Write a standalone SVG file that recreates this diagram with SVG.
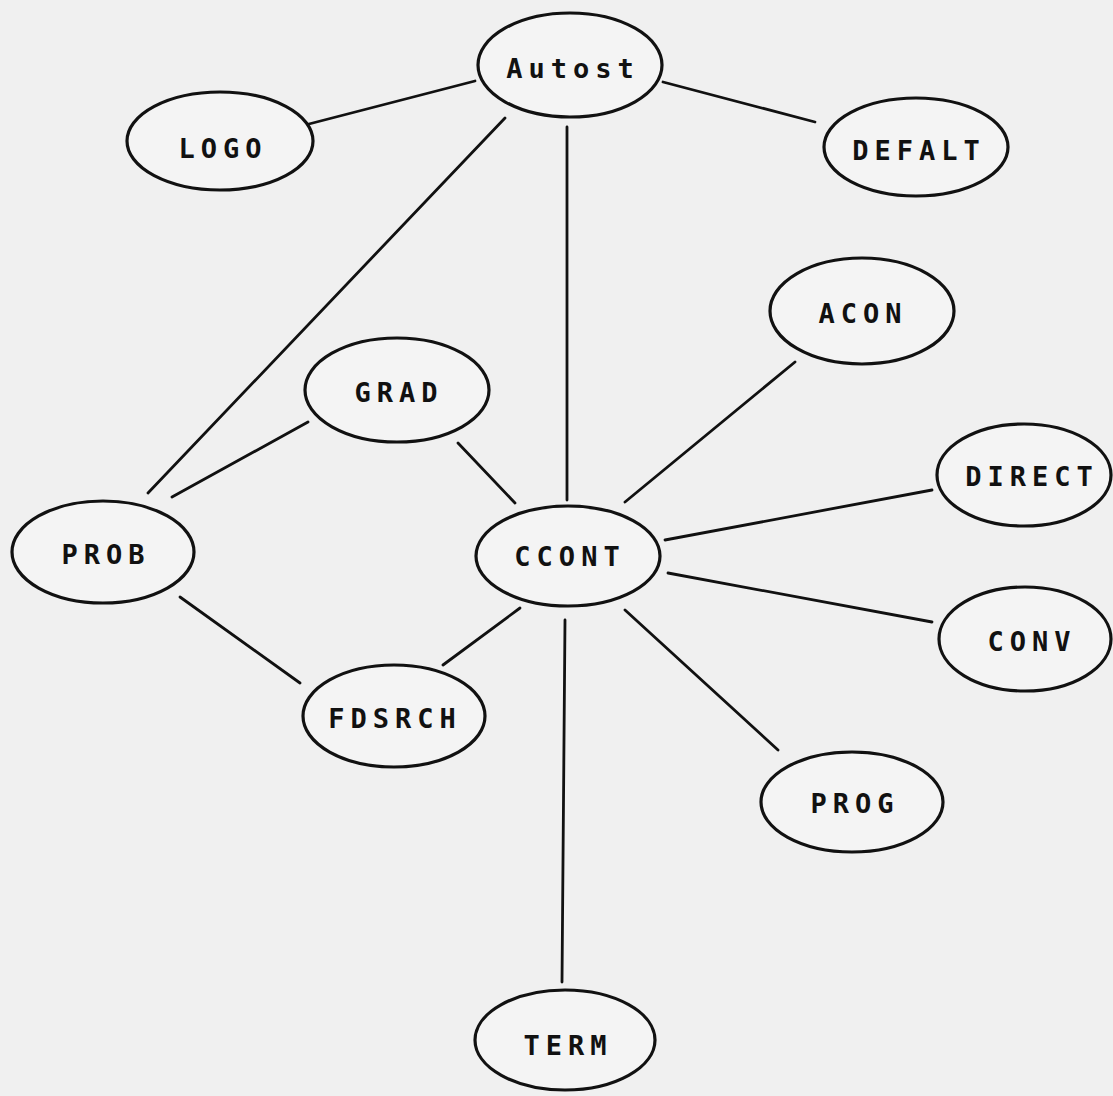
<svg xmlns="http://www.w3.org/2000/svg" width="1113" height="1096" viewBox="0 0 1113 1096">
<style>
.n ellipse{fill:#f4f4f4;stroke:#111;stroke-width:3.2}
.n text{font-family:"DejaVu Sans Mono","Liberation Mono",monospace;font-weight:bold;font-size:27px;fill:#111;text-anchor:middle;dominant-baseline:central;letter-spacing:6px}
.e line{stroke:#111;stroke-width:2.8;stroke-linecap:round}
</style>
<rect width="1113" height="1096" fill="#f0f0f0"/>
<g class="e" id="connectors">
<line x1="305" y1="125" x2="475" y2="81"/>
<line x1="663" y1="82" x2="815" y2="122"/>
<line x1="505" y1="118" x2="148" y2="493"/>
<line x1="567" y1="127" x2="567" y2="500"/>
<line x1="308" y1="422" x2="172" y2="497"/>
<line x1="458" y1="443" x2="515" y2="503"/>
<line x1="795" y1="362" x2="625" y2="502"/>
<line x1="932" y1="490" x2="665" y2="540"/>
<line x1="932" y1="622" x2="668" y2="573"/>
<line x1="778" y1="750" x2="625" y2="610"/>
<line x1="180" y1="597" x2="300" y2="683"/>
<line x1="443" y1="665" x2="520" y2="608"/>
<line x1="565" y1="620" x2="562" y2="982"/>
</g>
<g class="n" id="autost"><ellipse cx="570" cy="65" rx="92" ry="52"/><text x="573" y="68">Autost</text></g>
<g class="n" id="logo"><ellipse cx="220" cy="141" rx="93" ry="49"/><text x="223" y="148">LOGO</text></g>
<g class="n" id="defalt"><ellipse cx="916" cy="147" rx="92" ry="49"/><text x="919" y="150">DEFALT</text></g>
<g class="n" id="acon"><ellipse cx="862" cy="311" rx="92" ry="53"/><text x="863" y="313">ACON</text></g>
<g class="n" id="grad"><ellipse cx="397" cy="390" rx="92" ry="52"/><text x="399" y="392">GRAD</text></g>
<g class="n" id="direct"><ellipse cx="1024" cy="475" rx="87" ry="51"/><text x="1032" y="476">DIRECT</text></g>
<g class="n" id="prob"><ellipse cx="103" cy="552" rx="91" ry="51"/><text x="106" y="554">PROB</text></g>
<g class="n" id="ccont"><ellipse cx="568" cy="556" rx="92" ry="50"/><text x="570" y="556">CCONT</text></g>
<g class="n" id="conv"><ellipse cx="1025" cy="639" rx="86" ry="52"/><text x="1032" y="641">CONV</text></g>
<g class="n" id="fdsrch"><ellipse cx="394" cy="716" rx="91" ry="51"/><text x="395" y="718">FDSRCH</text></g>
<g class="n" id="prog"><ellipse cx="852" cy="802" rx="91" ry="50"/><text x="855" y="803">PROG</text></g>
<g class="n" id="term"><ellipse cx="565" cy="1040" rx="90" ry="50"/><text x="568" y="1045">TERM</text></g>
</svg>
